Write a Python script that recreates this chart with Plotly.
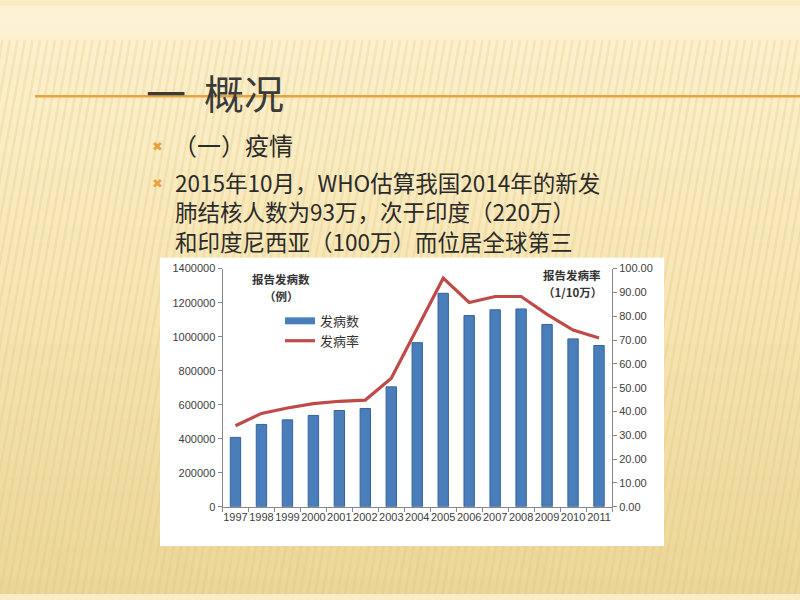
import plotly.graph_objects as go

years = ["1997", "1998", "1999", "2000", "2001", "2002", "2003", "2004",
         "2005", "2006", "2007", "2008", "2009", "2010", "2011"]
cases = [408000, 484000, 511000, 537000, 566000, 578000, 705000, 965000,
         1255000, 1124000, 1158000, 1163000, 1072000, 987000, 948000]
rates = [34.0, 39.2, 41.5, 43.3, 44.3, 44.8, 54.0, 75.0,
         96.0, 85.8, 88.3, 88.3, 80.8, 74.2, 70.9]

title_text = "一  概况"
bullet1 = "（一）疫情"
bullet2_lines = ["2015年10月，WHO估算我国2014年的新发",
                 "肺结核人数为93万，次于印度（220万）",
                 "和印度尼西亚（100万）而位居全球第三"]
left_title = ["报告发病数", "（例）"]
right_title = ["报告发病率", "（1/10万）"]

W, H = 800, 600
def px(x):
    return x / W
def py(y):
    return 1 - y / H

CJK = "Noto Sans CJK SC"
TICKFONT = dict(family="Liberation Sans, Arial", size=11, color="#404040")

fig = go.Figure()
fig.add_trace(go.Bar(
    x=years, y=cases, name="发病数", width=0.4, showlegend=False,
    marker=dict(color="#4A7EBB", line=dict(color="#35649C", width=1)),
    yaxis="y"))
fig.add_trace(go.Scatter(
    x=[None], y=[None], name="发病数", mode="lines",
    line=dict(color="#4A7EBB", width=7), yaxis="y"))
fig.add_trace(go.Scatter(
    x=years, y=rates, name="发病率", mode="lines",
    line=dict(color="#BE4B48", width=3.2), yaxis="y2"))

shapes = []
def lerp(a, b, t):
    return tuple(int(round(a[i] + (b[i] - a[i]) * t)) for i in range(3))
stops = [(0, (253, 243, 216)), (40, (252, 240, 205)), (250, (248, 232, 185)),
         (600, (236, 214, 152))]
nb = 40
for i in range(nb):
    y0 = i * H / nb
    y1 = (i + 1) * H / nb
    ym = (y0 + y1) / 2
    for j in range(len(stops) - 1):
        if stops[j][0] <= ym <= stops[j + 1][0]:
            t = (ym - stops[j][0]) / (stops[j + 1][0] - stops[j][0])
            c = lerp(stops[j][1], stops[j + 1][1], t)
            break
    shapes.append(dict(type="rect", xref="paper", yref="paper",
                       x0=0, x1=1, y0=max(0, py(y1 + 0.5)), y1=py(y0),
                       fillcolor="rgb(%d,%d,%d)" % c, line=dict(width=0),
                       layer="below"))
for k in range(-10, 120):
    xb = k * 7.5
    shapes.append(dict(type="line", xref="paper", yref="paper",
                       x0=px(xb + 40), y0=py(35), x1=px(xb - 60), y1=py(600),
                       line=dict(color="rgba(225,195,115,0.25)", width=2.5),
                       layer="below"))
shapes.append(dict(type="line", xref="paper", yref="paper",
                   x0=px(35), x1=1, y0=py(92), y1=py(92),
                   line=dict(color="#E8A33D", width=2.5), layer="below"))
shapes.append(dict(type="rect", xref="paper", yref="paper",
                   x0=px(160), x1=px(664), y0=py(551), y1=py(257),
                   fillcolor="white", line=dict(width=0), layer="below"))

annotations = []
annotations.append(dict(text=title_text, xref="paper", yref="paper",
                        x=px(144), y=py(88), xanchor="left", yanchor="middle",
                        showarrow=False,
                        font=dict(family=CJK, size=40, color="#3a3a3a")))
annotations.append(dict(text=bullet1, xref="paper", yref="paper",
                        x=px(171), y=py(141), xanchor="left", yanchor="middle",
                        showarrow=False,
                        font=dict(family=CJK, size=24, color="#2a2a2a")))
annotations.append(dict(text="<br>".join(bullet2_lines), xref="paper", yref="paper",
                        x=px(173), y=py(161), xanchor="left", yanchor="top",
                        align="left", showarrow=False,
                        font=dict(family=CJK, size=22.5, color="#2a2a2a")))
for yy in [143, 181]:
    annotations.append(dict(text="✖", xref="paper", yref="paper",
                            x=px(157), y=py(yy), xanchor="center",
                            yanchor="middle", showarrow=False,
                            font=dict(family="DejaVu Sans", size=13,
                                      color="#E8A33D")))
for xx, lines, y_top in [(281, left_title, 279), (572, right_title, 275)]:
    for k, s in enumerate(lines):
        annotations.append(dict(text="<b>%s</b>" % s, xref="paper", yref="paper",
                                x=px(xx), y=py(y_top + 17 * k),
                                xanchor="center", yanchor="middle",
                                showarrow=False,
                                font=dict(family=CJK, size=11.5, color="#333")))

fig.update_layout(
    width=W, height=H,
    margin=dict(l=0, r=0, t=0, b=0),
    paper_bgcolor="rgb(250,236,196)",
    plot_bgcolor="white",
    showlegend=True,
    legend=dict(x=px(280), y=py(306), xanchor="left", yanchor="top",
                bgcolor="rgba(0,0,0,0)", font=dict(family=CJK, size=13, color="#333"),
                itemwidth=30, tracegroupgap=0),
    xaxis=dict(domain=[px(222.5), px(612)], type="category",
               showline=True, linecolor="#888", linewidth=1,
               ticks="outside", tickson="boundaries", ticklen=4, tickcolor="#888",
               tickfont=TICKFONT, tickangle=0, showgrid=False, anchor="y"),
    yaxis=dict(domain=[py(511), py(268)], range=[0, 1400000], dtick=200000,
               showline=True, linecolor="#888", linewidth=1,
               ticks="outside", ticklen=4, tickcolor="#888",
               tickfont=TICKFONT, showgrid=False, zeroline=False,
               tickformat="d", anchor="x"),
    yaxis2=dict(domain=[py(511), py(268)], range=[0, 100], dtick=10,
                overlaying="y", side="right", anchor="x",
                showline=True, linecolor="#888", linewidth=1,
                ticks="outside", ticklen=4, tickcolor="#888",
                tickfont=TICKFONT, showgrid=False, zeroline=False,
                tickformat=".2f"),
    shapes=shapes,
    annotations=annotations,
)

fig.write_html("out.html", config={"displayModeBar": False},
               post_script=("document.body.style.margin='0';"
                            "document.body.style.overflow='hidden';"
                            "document.body.style.background='rgb(236,214,152)';"
                            "document.documentElement.style.background='rgb(236,214,152)';"))
